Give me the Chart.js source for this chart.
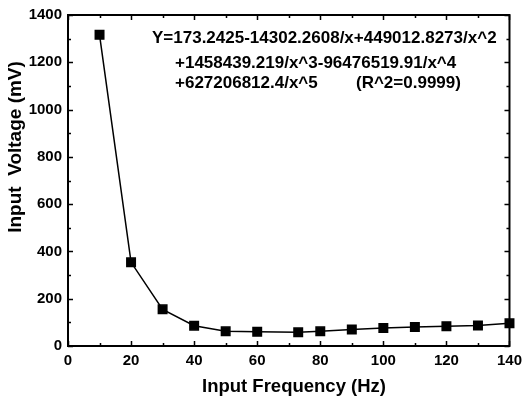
<!DOCTYPE html>
<html><head><meta charset="utf-8">
<script src="https://cdn.jsdelivr.net/npm/chart.js@4/dist/chart.umd.min.js"></script>
<style>html,body{margin:0;padding:0;background:#fff}canvas{display:block}</style>
</head><body>
<canvas id="c" width="528" height="400"></canvas>
<script>
const frequency = [10, 20, 30, 40, 50, 60, 73, 80, 90, 100, 110, 120, 130, 140];
const voltage = [1316, 354, 155, 86, 62, 60, 58, 62, 70, 76, 80, 84, 87, 96];
const xTitle = 'Input Frequency (Hz)';
const yTitle = 'Input  Voltage (mV)';
const eqLines = [
  'Y=173.2425-14302.2608/x+449012.8273/x^2',
  '+1458439.219/x^3-96476519.91/x^4',
  '+627206812.4/x^5'
];
const r2Text = '(R^2=0.9999)';

const FONT = '"Liberation Sans", Arial, sans-serif';

const framePlugin = {
  id: 'frame',
  beforeDatasetsDraw(chart) {
    const {ctx, chartArea: a, scales: {x, y}} = chart;
    ctx.save();
    ctx.strokeStyle = '#000';
    ctx.lineWidth = 1.5;
    for (let v = 0; v <= 140; v += 10) {
      const px = Math.round(x.getPixelForValue(v)) + 0.5;
      const len = (v % 20 === 0) ? 5 : 3;
      ctx.beginPath();
      ctx.moveTo(px, a.bottom); ctx.lineTo(px, a.bottom - len);
      ctx.moveTo(px, a.top); ctx.lineTo(px, a.top + len);
      ctx.stroke();
    }
    for (let v = 0; v <= 1400; v += 100) {
      const py = Math.round(y.getPixelForValue(v)) + 0.5;
      const len = (v % 200 === 0) ? 5 : 3;
      ctx.beginPath();
      ctx.moveTo(a.left, py); ctx.lineTo(a.left + len, py);
      ctx.moveTo(a.right, py); ctx.lineTo(a.right - len, py);
      ctx.stroke();
    }
    ctx.lineWidth = 2;
    ctx.strokeRect(a.left, a.top, a.right - a.left, a.bottom - a.top);
    ctx.restore();
  },
  afterDraw(chart) {
    const {ctx, chartArea: a} = chart;
    ctx.save();
    ctx.fillStyle = '#000';
    ctx.textBaseline = 'middle';
    ctx.textAlign = 'left';
    ctx.font = 'bold 17px ' + FONT;
    ctx.fillText(eqLines[0], a.left + 84, a.top + 23);
    ctx.fillText(eqLines[1], a.left + 107, a.top + 48);
    ctx.fillText(eqLines[2], a.left + 107, a.top + 68);
    ctx.fillText(r2Text, a.left + 288, a.top + 68);
    // axis titles
    ctx.textAlign = 'center';
    ctx.font = 'bold 18.5px ' + FONT;
    ctx.fillText(xTitle, 294, 387);
    ctx.translate(16, 147);
    ctx.rotate(-Math.PI / 2);
    ctx.font = 'bold 19px ' + FONT;
    ctx.fillText(yTitle, 0, 0);
    ctx.restore();
  }
};

new Chart(document.getElementById('c'), {
  type: 'scatter',
  data: {
    datasets: [{
      data: frequency.map((f, i) => ({x: f, y: voltage[i]})),
      showLine: true,
      borderColor: '#000',
      borderWidth: 1.5,
      backgroundColor: '#000',
      pointStyle: 'rect',
      pointRadius: 6,
      pointHoverRadius: 6,
      clip: false
    }]
  },
  options: {
    responsive: false,
    animation: false,
    events: [],
    layout: {padding: {top: 14, right: 13, left: 0, bottom: 0}},
    plugins: {legend: {display: false}, tooltip: {enabled: false}},
    scales: {
      x: {
        type: 'linear', min: 0, max: 140,
        grid: {display: false, drawTicks: false},
        border: {display: false},
        ticks: {stepSize: 20, color: '#000', padding: 6, font: {family: FONT, size: 15, weight: 'bold'},
                callback: v => String(v)},
        title: {display: false},
        afterFit(s) { s.height = 54; }
      },
      y: {
        type: 'linear', min: 0, max: 1400,
        grid: {display: false, drawTicks: false},
        border: {display: false},
        ticks: {stepSize: 200, color: '#000', padding: 6, font: {family: FONT, size: 15, weight: 'bold'},
                callback: v => String(v)},
        title: {display: false},
        afterFit(s) { s.width = 68; }
      }
    }
  },
  plugins: [framePlugin]
});
</script>
</body></html>
